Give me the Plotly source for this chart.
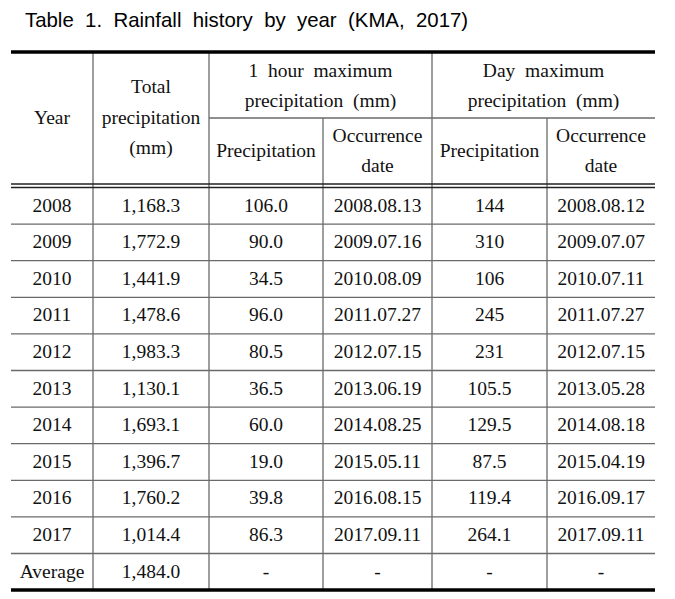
import plotly.graph_objects as go

# ---- data ----
years = ["2008", "2009", "2010", "2011", "2012", "2013", "2014", "2015", "2016", "2017"]
total_precip = [1168.3, 1772.9, 1441.9, 1478.6, 1983.3, 1130.1, 1693.1, 1396.7, 1760.2, 1014.4]
hour_max = [106.0, 90.0, 34.5, 96.0, 80.5, 36.5, 60.0, 19.0, 39.8, 86.3]
hour_date = ["2008.08.13", "2009.07.16", "2010.08.09", "2011.07.27", "2012.07.15",
             "2013.06.19", "2014.08.25", "2015.05.11", "2016.08.15", "2017.09.11"]
day_max = ["144", "310", "106", "245", "231", "105.5", "129.5", "87.5", "119.4", "264.1"]
day_date = ["2008.08.12", "2009.07.07", "2010.07.11", "2011.07.27", "2012.07.15",
            "2013.05.28", "2014.08.18", "2015.04.19", "2016.09.17", "2017.09.11"]
average_label = "Average"
average_total = 1484.0
NB = "\u00a0"
title_text = (NB + NB).join(["Table", "1.", "Rainfall", "history", "by", "year", "(KMA,", "2017)"])
header_top = [["Year"], ["Total", "precipitation", "(mm)"],
              ["1" + NB + NB + "hour" + NB + NB + "maximum", "precipitation" + NB + NB + "(mm)"],
              ["Day" + NB + NB + "maximum", "precipitation" + NB + NB + "(mm)"]]
header_sub = [["Precipitation"], ["Occurrence", "date"], ["Precipitation"], ["Occurrence", "date"]]

# ---- layout geometry (axis units = page pixels) ----
W, H = 675, 599
PAGE_MARGIN = 8  # default body margin of the html page
col_edges = [11, 93, 209, 323, 432, 547, 655]
top_y, split_y, dbl_y1, dbl_y2 = 52, 118, 184, 187.5
row_h = 36.6
line_gap = 30.5
body_font = "Liberation Serif, Times New Roman, serif"
fs = 19.5

rows = []
for i, y in enumerate(years):
    rows.append([y, f"{total_precip[i]:,.1f}", f"{hour_max[i]:.1f}", hour_date[i], day_max[i], day_date[i]])
rows.append([average_label, f"{average_total:,.1f}", "-", "-", "-", "-"])

centers = [(col_edges[k] + col_edges[k + 1]) / 2 for k in range(6)]
n_rows = len(rows)
bottom_y = dbl_y2 + row_h * n_rows

tx, ty, tt = [], [], []
for r, row in enumerate(rows):
    yc = dbl_y2 + (r + 0.5) * row_h + 1
    for c, val in enumerate(row):
        tx.append(centers[c]); ty.append(yc); tt.append(val)

def add_lines(lines, xc, yc):
    n = len(lines)
    for j, s in enumerate(lines):
        tx.append(xc); ty.append(yc + (j - (n - 1) / 2) * line_gap); tt.append(s)

full_mid = (top_y + dbl_y1) / 2 + 1
add_lines(header_top[0], centers[0], full_mid)
add_lines(header_top[1], centers[1], full_mid)
add_lines(header_top[2], (col_edges[2] + col_edges[4]) / 2, (top_y + split_y) / 2 + 2)
add_lines(header_top[3], (col_edges[4] + col_edges[6]) / 2, (top_y + split_y) / 2 + 2)
sub_mid = (split_y + dbl_y1) / 2 + 1
for k, lines in enumerate(header_sub):
    add_lines(lines, centers[2 + k], sub_mid)

fig = go.Figure(go.Scatter(x=tx, y=ty, text=tt, mode="text",
                           textfont=dict(family=body_font, size=fs, color="#111"),
                           textposition="middle center", hoverinfo="skip", showlegend=False))

shapes = []
def hline(y, x0, x1, w, col):
    shapes.append(dict(type="line", xref="x", yref="y", x0=x0, x1=x1, y0=y, y1=y,
                       line=dict(color=col, width=w)))
def vline(x, y0, y1, w, col):
    shapes.append(dict(type="line", xref="x", yref="y", x0=x, x1=x, y0=y0, y1=y1,
                       line=dict(color=col, width=w)))

grey = "#6a6a6a"
for k in range(1, n_rows):
    hline(dbl_y2 + k * row_h, col_edges[0], col_edges[-1], 1.3, grey)
for x in (col_edges[1], col_edges[2], col_edges[4]):
    vline(x, top_y, bottom_y, 1.3, grey)
for x in (col_edges[3], col_edges[5]):
    vline(x, split_y, bottom_y, 1.3, grey)
hline(split_y, col_edges[2], col_edges[-1], 1.3, grey)
hline(dbl_y1, col_edges[0], col_edges[-1], 1.3, "#222")
hline(dbl_y2, col_edges[0], col_edges[-1], 1.3, "#222")
hline(top_y, col_edges[0], col_edges[-1], 3.5, "#000")
hline(bottom_y, col_edges[0], col_edges[-1], 3.5, "#000")

fig.update_layout(
    width=W - PAGE_MARGIN, height=H - PAGE_MARGIN, margin=dict(l=0, r=0, t=0, b=0),
    paper_bgcolor="white", plot_bgcolor="white",
    shapes=shapes,
    annotations=[dict(text=title_text, xref="x", yref="y", x=23, y=20,
                      xanchor="left", yanchor="middle", showarrow=False,
                      font=dict(family="Liberation Sans, Arial, sans-serif", size=20.4, color="#000"))],
    xaxis=dict(range=[PAGE_MARGIN, W], visible=False, fixedrange=True),
    yaxis=dict(range=[H, PAGE_MARGIN], visible=False, fixedrange=True),
)
fig.write_html("out.html")
